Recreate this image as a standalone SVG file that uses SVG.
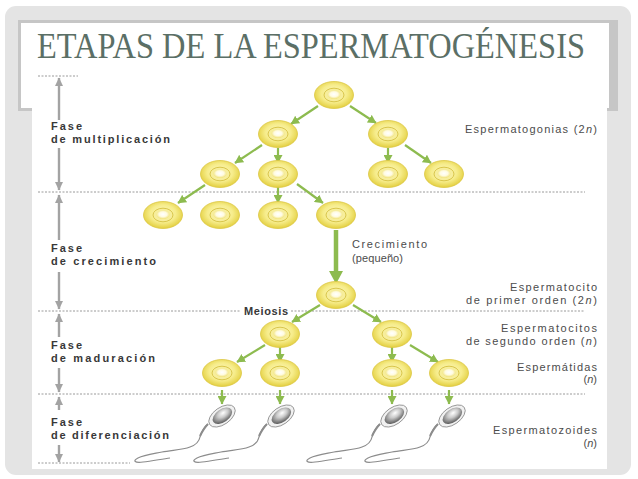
<svg xmlns="http://www.w3.org/2000/svg" xmlns:xlink="http://www.w3.org/1999/xlink" width="638" height="479" viewBox="0 0 638 479">
<style>
.dot{stroke:#9a9a9a;stroke-width:1;stroke-dasharray:2 1.5;fill:none}
.garr{stroke:#a3a3a3;stroke-width:2.4;fill:none}
.green{stroke:#8dbb4f;stroke-width:2.2;fill:none}
.lbl{font-family:"Liberation Sans",Arial,sans-serif;font-size:11px;font-weight:bold;fill:#383838}
.rl{font-family:"Liberation Sans",Arial,sans-serif;font-size:11px;fill:#4c4c4c}
.title{font-family:"Liberation Serif","Times New Roman",serif;font-size:31.5px;fill:#5b6f66}
.tail{stroke:#8c8c8c;stroke-width:1.2;fill:none}
</style>
<defs>
<radialGradient id="cellG" cx="50%" cy="45%" r="55%">
<stop offset="0" stop-color="#fdf8c4"/>
<stop offset="0.6" stop-color="#f6ec8a"/>
<stop offset="1" stop-color="#e3cf3f"/>
</radialGradient>
<radialGradient id="nucG" cx="50%" cy="45%" r="55%">
<stop offset="0" stop-color="#ffffff"/>
<stop offset="0.55" stop-color="#fffbe0"/>
<stop offset="1" stop-color="#f0e27a"/>
</radialGradient>
<radialGradient id="headG" cx="55%" cy="40%" r="60%" fx="60%" fy="35%">
<stop offset="0" stop-color="#ffffff"/>
<stop offset="0.45" stop-color="#c9c9c9"/>
<stop offset="1" stop-color="#5e5e5e"/>
</radialGradient>
<marker id="gh" markerUnits="userSpaceOnUse" markerWidth="9" markerHeight="9" refX="8" refY="4.5" orient="auto">
<path d="M0,0 L8.5,4.5 L0,9 z" fill="#8dbb4f"/>
</marker>
<marker id="gray" markerUnits="userSpaceOnUse" markerWidth="9" markerHeight="9" refX="8" refY="4.5" orient="auto">
<path d="M0,0.5 L8.5,4.5 L0,8.5 z" fill="#a3a3a3"/>
</marker>
<g id="cellShape">
<ellipse rx="19.5" ry="13.5" fill="url(#cellG)" stroke="#dcc743" stroke-width="0.8"/>
<ellipse rx="10" ry="6.8" fill="#f7ee9c" stroke="#d9c64c" stroke-width="1"/>
<ellipse cy="-0.3" rx="6.5" ry="4.2" fill="url(#nucG)"/>
</g>
<g id="spermShape">
<path class="tail" d="M-14,8 C-19,12 -21,17 -22,21 C-23,26 -26,29 -32,31 C-40,34 -50,34 -60,36 C-70,38 -78,39 -84,42 C-90,45 -87,47 -79,46 C-70,45 -60,43 -52,42"/>
<path d="M-14,8 C-18,12 -20,16 -22,20" stroke="#8c8c8c" stroke-width="2" fill="none"/>
<g transform="rotate(-35)">
<ellipse rx="15" ry="8.5" fill="#f1f1f1" stroke="#8a8a8a" stroke-width="0.8"/>
<ellipse cx="0.5" rx="11" ry="6.5" fill="url(#headG)"/>
</g>
</g>
</defs>

<rect x="0" y="0" width="638" height="479" fill="#ffffff"/>
<rect x="5" y="6" width="626" height="469" rx="11" fill="#e4e4e4"/>
<rect x="18" y="20" width="600" height="91" fill="#c6c6c6"/>
<rect x="21" y="23" width="588" height="85" fill="#ffffff"/>
<rect x="32" y="75" width="575" height="394" fill="#ffffff"/>

<text class="title" transform="translate(37,58) scale(1,1.12)" x="0" y="0" textLength="548" lengthAdjust="spacingAndGlyphs">ETAPAS DE LA ESPERMATOGÉNESIS</text>

<g id="guides">
<line class="dot" x1="38" y1="76" x2="78" y2="76"/>
<line class="dot" x1="38" y1="192" x2="585" y2="192"/>
<line class="dot" x1="38" y1="311" x2="240" y2="311"/>
<line class="dot" x1="291" y1="311" x2="585" y2="311"/>
<line class="dot" x1="38" y1="394" x2="585" y2="394"/>
<line class="dot" x1="38" y1="463" x2="130" y2="463"/>
</g>

<g id="phase-arrows">
<line class="garr" x1="59" y1="120" x2="59" y2="78" marker-end="url(#gray)"/>
<line class="garr" x1="59" y1="148" x2="59" y2="190" marker-end="url(#gray)"/>
<line class="garr" x1="59" y1="240" x2="59" y2="195" marker-end="url(#gray)"/>
<line class="garr" x1="59" y1="272" x2="59" y2="309" marker-end="url(#gray)"/>
<line class="garr" x1="59" y1="337" x2="59" y2="314" marker-end="url(#gray)"/>
<line class="garr" x1="59" y1="368" x2="59" y2="392" marker-end="url(#gray)"/>
<line class="garr" x1="59" y1="410" x2="59" y2="397" marker-end="url(#gray)"/>
<line class="garr" x1="59" y1="445" x2="59" y2="462" marker-end="url(#gray)"/>
</g>

<g id="phase-labels">
<text class="lbl" x="51" y="130" textLength="31">Fase</text>
<text class="lbl" x="51" y="143" textLength="119">de multiplicación</text>
<text class="lbl" x="51" y="252" textLength="31">Fase</text>
<text class="lbl" x="51" y="265" textLength="105">de crecimiento</text>
<text class="lbl" x="51" y="349" textLength="31">Fase</text>
<text class="lbl" x="51" y="362" textLength="104">de maduración</text>
<text class="lbl" x="51" y="426" textLength="31">Fase</text>
<text class="lbl" x="51" y="439" textLength="118">de diferenciación</text>
<text class="lbl" x="244" y="315" textLength="44">Meiosis</text>
</g>

<g id="connectors">
<line class="green" x1="318" y1="106" x2="291" y2="124" marker-end="url(#gh)"/>
<line class="green" x1="350" y1="106" x2="376" y2="123" marker-end="url(#gh)"/>
<line class="green" x1="262" y1="145" x2="235" y2="163" marker-end="url(#gh)"/>
<line class="green" x1="278" y1="148" x2="278" y2="163" marker-end="url(#gh)"/>
<line class="green" x1="388" y1="148" x2="388" y2="163" marker-end="url(#gh)"/>
<line class="green" x1="405" y1="145" x2="431" y2="163" marker-end="url(#gh)"/>
<line class="green" x1="205" y1="185" x2="178" y2="203" marker-end="url(#gh)"/>
<line class="green" x1="278" y1="187" x2="278" y2="203" marker-end="url(#gh)"/>
<line class="green" x1="297" y1="184" x2="323" y2="203" marker-end="url(#gh)"/>
<line x1="336" y1="230" x2="336" y2="272" stroke="#8dbb4f" stroke-width="4.5"/>
<path d="M329,271 L343,271 L336,284 z" fill="#8dbb4f"/>
<line class="green" x1="320" y1="305" x2="292" y2="322" marker-end="url(#gh)"/>
<line class="green" x1="353" y1="305" x2="381" y2="322" marker-end="url(#gh)"/>
<line class="green" x1="265" y1="345" x2="237" y2="362" marker-end="url(#gh)"/>
<line class="green" x1="280" y1="347" x2="280" y2="362" marker-end="url(#gh)"/>
<line class="green" x1="392" y1="347" x2="392" y2="362" marker-end="url(#gh)"/>
<line class="green" x1="410" y1="345" x2="438" y2="362" marker-end="url(#gh)"/>
<line class="green" x1="222" y1="390" x2="222" y2="404" marker-end="url(#gh)"/>
<line class="green" x1="280" y1="390" x2="280" y2="404" marker-end="url(#gh)"/>
<line class="green" x1="392" y1="390" x2="392" y2="404" marker-end="url(#gh)"/>
<line class="green" x1="449" y1="390" x2="449" y2="404" marker-end="url(#gh)"/>
</g>

<g id="cell-1"><use xlink:href="#cellShape" transform="translate(334,95)"/></g>
<g id="cell-2a"><use xlink:href="#cellShape" transform="translate(278,134)"/></g>
<g id="cell-2b"><use xlink:href="#cellShape" transform="translate(388,134)"/></g>
<g id="cell-3a"><use xlink:href="#cellShape" transform="translate(220,174)"/></g>
<g id="cell-3b"><use xlink:href="#cellShape" transform="translate(278,174)"/></g>
<g id="cell-3c"><use xlink:href="#cellShape" transform="translate(388,174)"/></g>
<g id="cell-3d"><use xlink:href="#cellShape" transform="translate(444,174)"/></g>
<g id="cell-4a"><use xlink:href="#cellShape" transform="translate(163,215)"/></g>
<g id="cell-4b"><use xlink:href="#cellShape" transform="translate(220,215)"/></g>
<g id="cell-4c"><use xlink:href="#cellShape" transform="translate(278,215)"/></g>
<g id="cell-4d"><use xlink:href="#cellShape" transform="translate(336,215)"/></g>
<g id="cell-5"><use xlink:href="#cellShape" transform="translate(336,295)"/></g>
<g id="cell-6a"><use xlink:href="#cellShape" transform="translate(280,334)"/></g>
<g id="cell-6b"><use xlink:href="#cellShape" transform="translate(392,334)"/></g>
<g id="cell-7a"><use xlink:href="#cellShape" transform="translate(222,373)"/></g>
<g id="cell-7b"><use xlink:href="#cellShape" transform="translate(280,373)"/></g>
<g id="cell-7c"><use xlink:href="#cellShape" transform="translate(392,373)"/></g>
<g id="cell-7d"><use xlink:href="#cellShape" transform="translate(449,373)"/></g>

<g id="sperm-a"><use xlink:href="#spermShape" transform="translate(222,416)"/></g>
<g id="sperm-b"><use xlink:href="#spermShape" transform="translate(281,416)"/></g>
<g id="sperm-c"><use xlink:href="#spermShape" transform="translate(394,416)"/></g>
<g id="sperm-d"><use xlink:href="#spermShape" transform="translate(452,416)"/></g>

<g id="stage-labels">
<text class="rl" x="352" y="248" textLength="75">Crecimiento</text>
<text class="rl" x="352" y="262" textLength="51">(pequeño)</text>
<text class="rl" x="597" y="133" text-anchor="end" textLength="132">Espermatogonias (2<tspan font-style="italic">n</tspan>)</text>
<text class="rl" x="597" y="291" text-anchor="end" textLength="87">Espermatocito</text>
<text class="rl" x="597" y="304" text-anchor="end" textLength="131">de primer orden (2<tspan font-style="italic">n</tspan>)</text>
<text class="rl" x="597" y="332" text-anchor="end" textLength="96">Espermatocitos</text>
<text class="rl" x="597" y="345" text-anchor="end" textLength="131">de segundo orden (<tspan font-style="italic">n</tspan>)</text>
<text class="rl" x="597" y="371" text-anchor="end" textLength="80">Espermátidas</text>
<text class="rl" x="597" y="383" text-anchor="end">(<tspan font-style="italic">n</tspan>)</text>
<text class="rl" x="597" y="434" text-anchor="end" textLength="104">Espermatozoides</text>
<text class="rl" x="597" y="447" text-anchor="end">(<tspan font-style="italic">n</tspan>)</text>
</g>
</svg>
